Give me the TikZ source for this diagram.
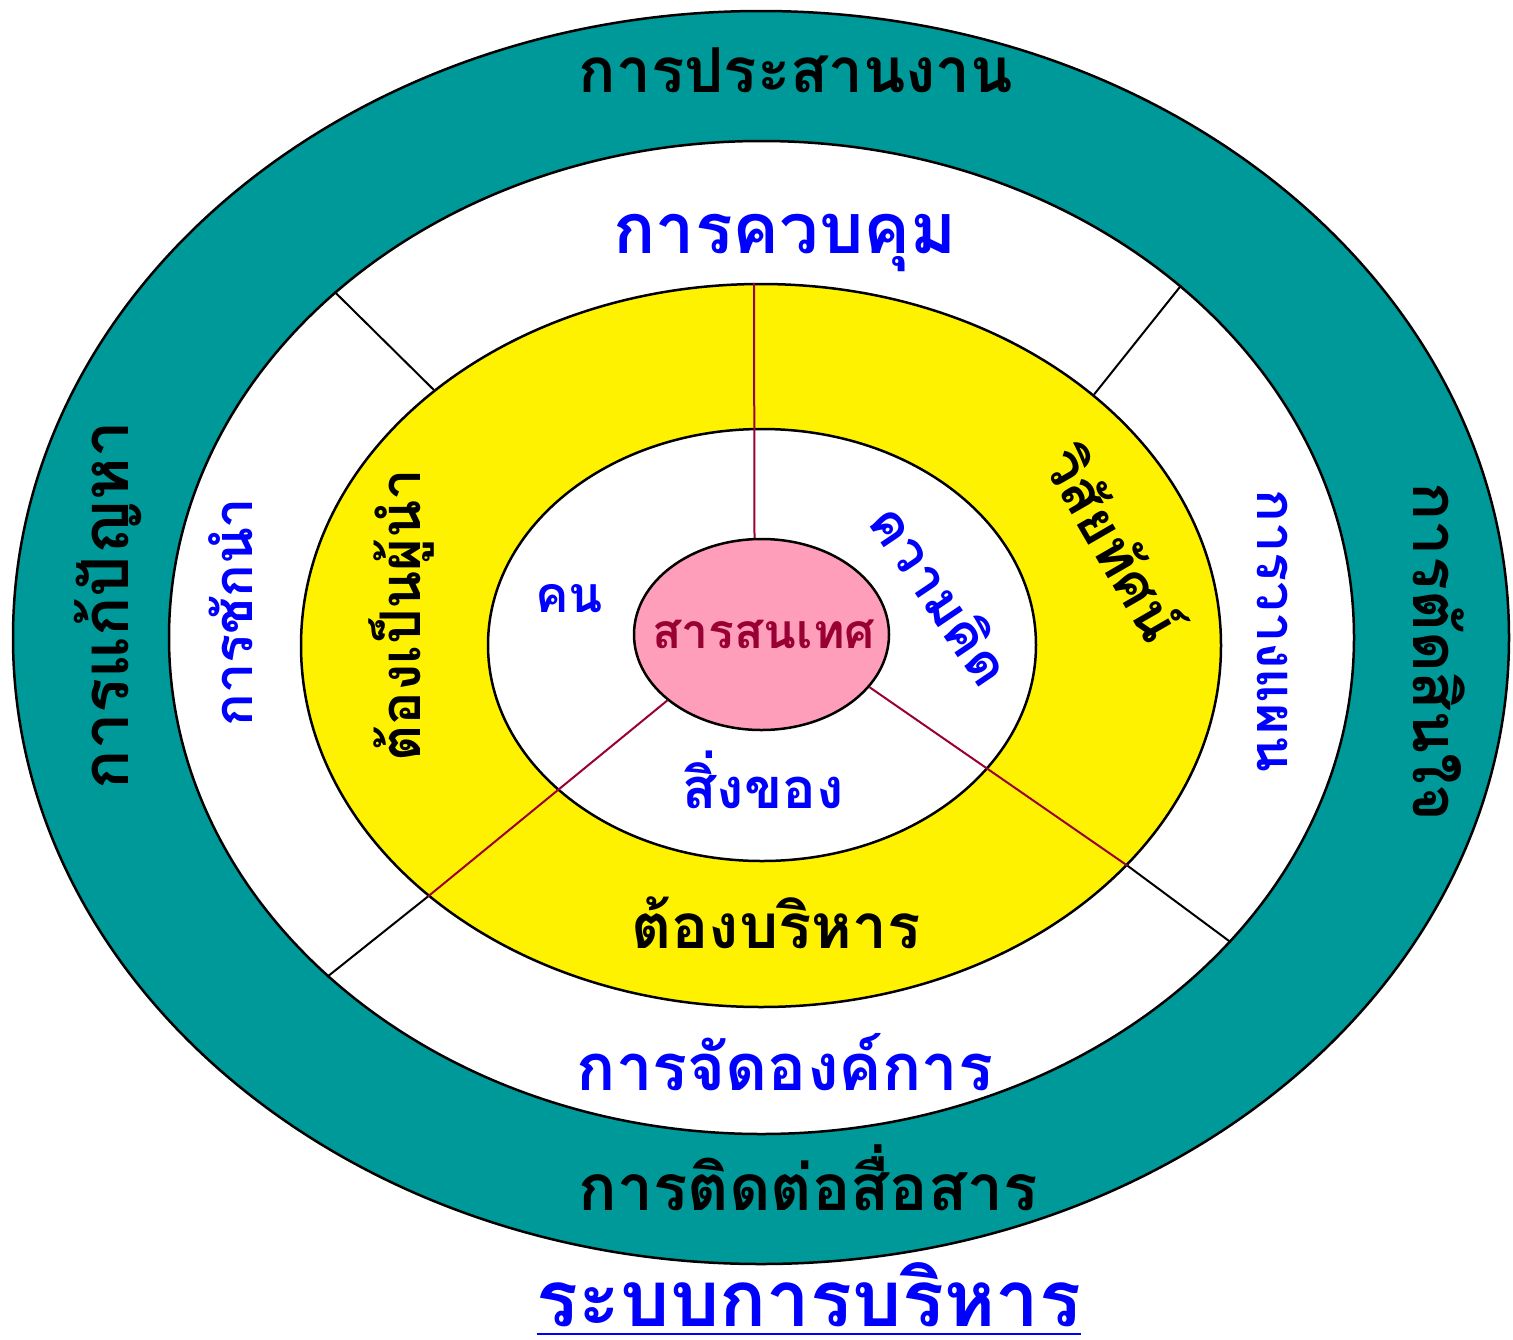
\documentclass[tikz,border=0pt]{standalone}
\usepackage{fontspec}
\usetikzlibrary{shapes.geometric}
\newfontfamily\thai[Script=Thai]{Loma}
\definecolor{tealc}{RGB}{0,153,153}
\definecolor{pinkc}{RGB}{255,158,187}
\definecolor{maroonc}{RGB}{153,0,51}
\definecolor{bluec}{RGB}{0,0,255}
\newcommand{\fs}[1]{\thai\bfseries\fontsize{#1}{#1}\selectfont}
\begin{document}
\begin{tikzpicture}[x=1pt,y=-1pt,
  ring/.style={ellipse, draw=black, line width=2.5pt, inner sep=0pt},
  txt/.style={inner sep=0pt, anchor=base},
  redline/.style={draw=maroonc, line width=2pt},
  blackline/.style={draw=black, line width=2pt}]
\useasboundingbox (0,0) rectangle (1513,1339);
\fill[white] (0,0) rectangle (1513,1339);
% rings
\node[ring, fill=tealc, minimum width=1496pt, minimum height=1253pt] (outer) at (761,637.5) {};
\node[ring, fill=white, minimum width=1185pt, minimum height=993pt] (white) at (761.5,637.5) {};
\node[ring, fill=yellow, minimum width=920pt, minimum height=723pt] (yellowr) at (761,645.5) {};
\node[ring, fill=white, minimum width=548pt, minimum height=432pt] (innerw) at (762,645) {};
% connectors
\draw[blackline] (white.141.7) -- (yellowr.142.8);
\draw[blackline] (white.40.4) -- (yellowr.37.2);
\draw[blackline] (yellowr.217) -- (white.218);
\draw[blackline] (yellowr.-31.3) -- (white.-33);
\node[ring, fill=pinkc, minimum width=255pt, minimum height=191pt] (pink) at (761.5,634.5) {};
\draw[redline] ([xshift=-7pt]pink.north) -- ([xshift=-7pt]yellowr.north);
\draw[redline] (pink.215.7) -- (yellowr.217);
\draw[redline] (pink.-26) -- (yellowr.-31.3);
% outer ring texts
\node[txt, font=\fs{62}] (coord) at (796,92) {การประสานงาน};
\node[txt, font=\fs{64}] (comm) at (808,1210) {การติดต่อสื่อสาร};
\node[txt, font=\fs{65}, rotate=90] (solve) at (128,605) {การแก้ปัญหา};
\node[txt, font=\fs{63}, rotate=-90] (decide) at (1413,652) {การตัดสินใจ};
% white ring texts
\node[txt, font=\fs{70}, text=bluec] (control) at (785,253) {การควบคุม};
\node[txt, font=\fs{65}, text=bluec] (organize) at (785,1090) {การจัดองค์การ};
\node[txt, font=\fs{54}, text=bluec, rotate=90] (lead) at (252,612) {การชักนำ};
\node[txt, font=\fs{54}, text=bluec, rotate=-90] (plan) at (1257,631) {การวางแผน};
% yellow ring texts
\node[txt, font=\fs{56}, rotate=90] (leader) at (420,615) {ต้องเป็นผู้นำ};
\node[font=\fs{57}, inner sep=0pt, rotate=-60] (vision) at (1116,542) {วิสัยทัศน์};
\node[txt, font=\fs{62}] (manage) at (776,948) {ต้องบริหาร};
% inner texts
\node[txt, font=\fs{50}, text=bluec] (people) at (569,612) {คน};
\node[txt, font=\fs{56}, text=bluec] (things) at (763,808) {สิ่งของ};
\node[font=\fs{54}, inner sep=0pt, text=bluec, rotate=-56] (ideas) at (942,594) {ความคิด};
\node[txt, font=\fs{48}, text=maroonc] (info) at (764,648) {สารสนเทศ};
% title
\node[txt, font=\fs{78}, text=bluec] (title) at (809,1326) {ระบบการบริหาร};
\draw[bluec, line width=2.5pt] ([yshift=-8pt]title.base west) -- ([yshift=-8pt]title.base east);
\end{tikzpicture}
\end{document}
